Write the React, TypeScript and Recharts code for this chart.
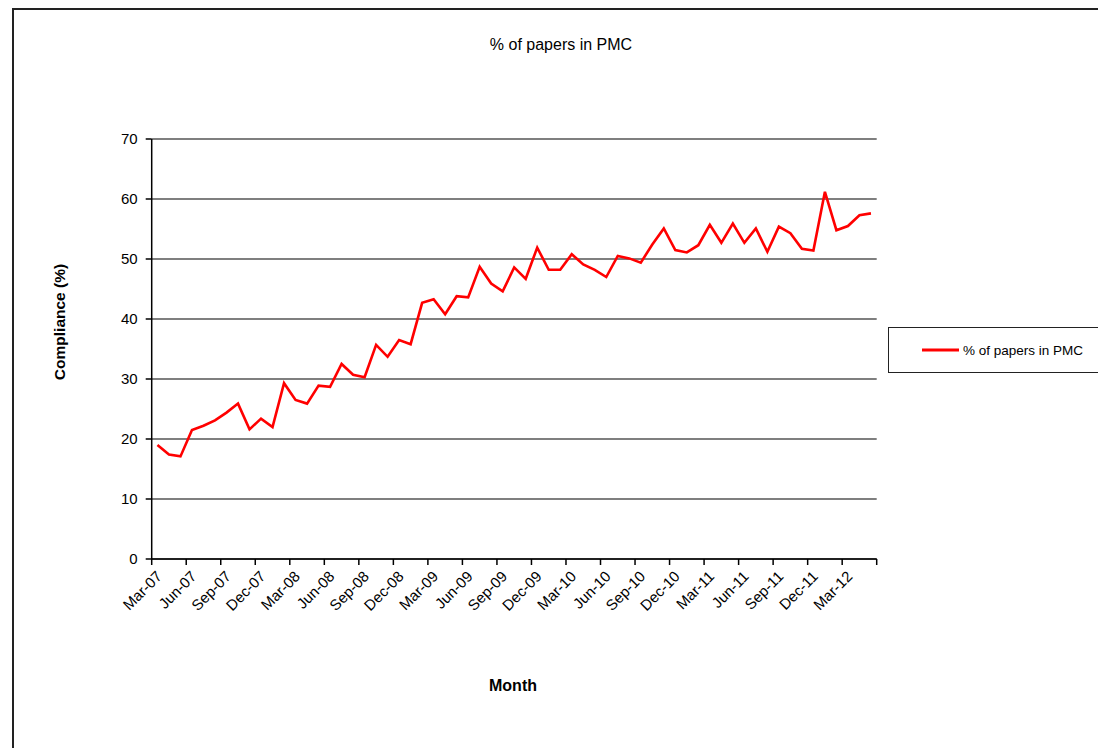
import React from 'react';
import { LineChart, Line, XAxis, YAxis, CartesianGrid } from 'recharts';

const months = [
  'Mar-07', 'Apr-07', 'May-07', 'Jun-07', 'Jul-07', 'Aug-07', 'Sep-07', 'Oct-07', 'Nov-07', 'Dec-07',
  'Jan-08', 'Feb-08', 'Mar-08', 'Apr-08', 'May-08', 'Jun-08', 'Jul-08', 'Aug-08', 'Sep-08', 'Oct-08', 'Nov-08', 'Dec-08',
  'Jan-09', 'Feb-09', 'Mar-09', 'Apr-09', 'May-09', 'Jun-09', 'Jul-09', 'Aug-09', 'Sep-09', 'Oct-09', 'Nov-09', 'Dec-09',
  'Jan-10', 'Feb-10', 'Mar-10', 'Apr-10', 'May-10', 'Jun-10', 'Jul-10', 'Aug-10', 'Sep-10', 'Oct-10', 'Nov-10', 'Dec-10',
  'Jan-11', 'Feb-11', 'Mar-11', 'Apr-11', 'May-11', 'Jun-11', 'Jul-11', 'Aug-11', 'Sep-11', 'Oct-11', 'Nov-11', 'Dec-11',
  'Jan-12', 'Feb-12', 'Mar-12', 'Apr-12', 'May-12',
];

const pctInPmc = [
  19.0, 17.4, 17.1, 21.5, 22.2, 23.1, 24.4, 25.9, 21.6, 23.4,
  22.0, 29.3, 26.5, 25.9, 28.9, 28.7, 32.5, 30.7, 30.3, 35.7,
  33.7, 36.5, 35.8, 42.7, 43.3, 40.8, 43.8, 43.6, 48.7, 45.9,
  44.6, 48.6, 46.7, 51.9, 48.2, 48.2, 50.8, 49.1, 48.2, 47.0,
  50.5, 50.1, 49.4, 52.4, 55.1, 51.5, 51.1, 52.3, 55.7, 52.7,
  55.9, 52.7, 55.1, 51.2, 55.4, 54.3, 51.7, 51.4, 61.2, 54.8,
  55.5, 57.3, 57.6,
];

// tick marks sit between months, every third month
const xTicks = [0, 3, 6, 9, 12, 15, 18, 21, 24, 27, 30, 33, 36, 39, 42, 45, 48, 51, 54, 57, 60, 63];
const yTicks = [0, 10, 20, 30, 40, 50, 60, 70];

const seriesName = '% of papers in PMC';

const data = pctInPmc.map((v, i) => ({ x: i + 0.5, pct: v }));

const FONT = '"Liberation Sans", Arial, sans-serif';
const PLOT_W = 725;
const BAND = PLOT_W / months.length;

const MonthTick = (props: any) => {
  const { x, y, payload } = props;
  const label = months[payload.value];
  if (!label) return null;
  const cx = x + BAND / 2 - 2;
  const ty = y + 3;
  return (
    <text
      x={cx}
      y={ty}
      textAnchor="end"
      dy="0.7em"
      transform={`rotate(-45, ${cx}, ${ty})`}
      fontSize={15}
      fontFamily={FONT}
      fill="#000"
    >
      {label}
    </text>
  );
};

const App: React.FC = () => {
  return (
    <div style={{ position: 'relative', width: 1098, height: 740, overflow: 'hidden', fontFamily: FONT }}>
      <div
        style={{
          position: 'absolute', left: 4, top: 0, width: 1120, height: 800,
          border: '2px solid #222', boxSizing: 'border-box',
        }}
      />
      <div style={{ position: 'absolute', left: 0, width: 1106, top: 28, textAlign: 'center', fontSize: 16, color: '#000' }}>
        {seriesName}
      </div>
      <LineChart
        width={1098}
        height={740}
        data={data}
        margin={{ top: 131, right: 229.3, bottom: 129, left: 83.7 }}
        style={{ position: 'absolute', left: 0, top: 0 }}
      >
        <CartesianGrid horizontal vertical={false} stroke="#000" strokeWidth={1.2} />
        <XAxis
          dataKey="x"
          type="number"
          domain={[0, 63]}
          ticks={xTicks}
          interval={0}
          height={60}
          tick={<MonthTick />}
          tickSize={6}
          stroke="#000"
          axisLine={{ stroke: '#000', strokeWidth: 1.5 }}
          tickLine={{ stroke: '#000', strokeWidth: 1.5 }}
        />
        <YAxis
          domain={[0, 70]}
          ticks={yTicks}
          width={60}
          tickSize={6}
          tickMargin={8}
          stroke="#000"
          axisLine={{ stroke: '#000', strokeWidth: 1.5 }}
          tickLine={{ stroke: '#000', strokeWidth: 1.5 }}
          tick={{ fill: '#000', fontSize: 15, fontFamily: FONT }}
        />
        <Line
          type="linear"
          dataKey="pct"
          name={seriesName}
          stroke="#ff0000"
          strokeWidth={2.6}
          dot={false}
          isAnimationActive={false}
        />
      </LineChart>
      <div
        style={{
          position: 'absolute', left: 52, top: 314, transform: 'translate(-50%, -50%) rotate(-90deg)',
          fontSize: 15.5, fontWeight: 'bold', whiteSpace: 'nowrap', color: '#000',
        }}
      >
        Compliance (%)
      </div>
      <div
        style={{
          position: 'absolute', left: 505, top: 678, transform: 'translate(-50%, -50%)',
          fontSize: 16, fontWeight: 'bold', color: '#000',
        }}
      >
        Month
      </div>
      <div
        style={{
          position: 'absolute', left: 880, top: 319, width: 260, height: 46,
          border: '1.5px solid #222', boxSizing: 'border-box', background: '#fff',
          display: 'flex', alignItems: 'center',
        }}
      >
        <svg width={40} height={10} style={{ marginLeft: 32 }}>
          <line x1={1} y1={5} x2={38} y2={5} stroke="#ff0000" strokeWidth={3} />
        </svg>
        <span style={{ fontSize: 13.5, color: '#000', marginLeft: 2 }}>{seriesName}</span>
      </div>
    </div>
  );
};

export default App;
